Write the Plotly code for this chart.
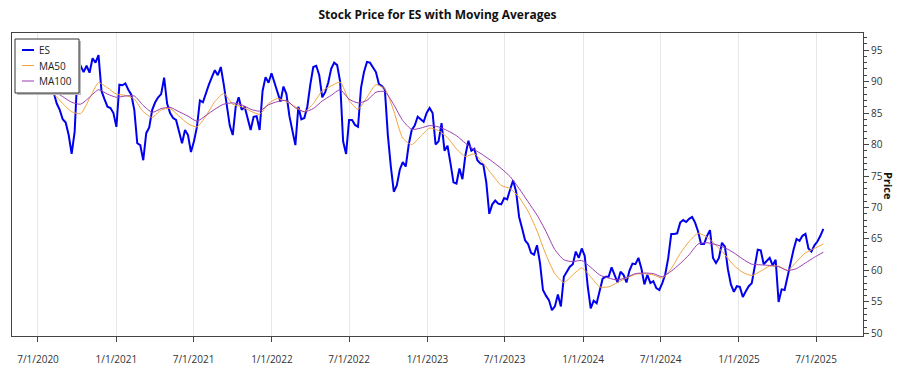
import pandas as pd
import plotly.graph_objects as go

# ---------------- data ----------------
start_date = "2020-05-15"          # first weekly close shown

# weekly closing prices of ES
es_price = [
    88.5, 89.5, 90.5, 89, 90, 91, 89.5, 90, 91, 89.5,
    90, 89, 88.2, 86.5, 85.5, 84, 83.5, 81.5, 78.5, 82,
    92, 92.5, 91.5, 92.5, 91.4, 93.7, 93, 94.2, 88.5, 87.2,
    86, 85.8, 85, 82.8, 89.5, 89.4, 89.7, 88.7, 87.9, 85.5,
    80.2, 79.9, 77.5, 81.8, 82.7, 85.5, 86.7, 87.5, 88, 90.6,
    86.5, 85, 84.2, 83.9, 82, 80.2, 82.3, 81.5, 78.8, 80.5,
    82.8, 87, 86.7, 88.3, 89.5, 90.7, 91.8, 91, 92.3, 89.5,
    86, 83, 81.5, 86, 87.5, 85.5, 86, 83.9, 82.3, 84.4,
    84.5, 82.3, 88.5, 90.7, 89.8, 91.3, 89.8, 88.2, 86.8, 89.2,
    88, 84.5, 82.3, 79.9, 86, 84, 84.2, 86, 89.5, 92.3,
    92.5, 91, 87.5, 88.3, 89.8, 92, 93, 92.6, 90, 80.5,
    78.5, 83.9, 83.9, 83.1, 82.8, 89, 91.5, 93.1, 93, 92.2,
    91.5, 89.6, 89.3, 88.7, 81.5, 76.5, 72.5, 73.5, 76, 77.2,
    76.5, 80, 82.3, 83, 84.4, 84, 83.6, 85, 85.8, 85,
    80, 80.5, 83.4, 79, 79.8, 77, 74, 73.8, 76.2, 74.5,
    78.3, 80.6, 79, 79.3, 77.5, 77, 76.8, 74, 69, 70.5,
    71.1, 70.6, 70.5, 71.5, 71.3, 72.9, 74.3, 72.5, 68.5, 66.7,
    64.8, 64.2, 62.8, 62.5, 64, 61.2, 56.9, 56, 55.3, 53.7,
    54.3, 56.2, 54.3, 59, 59.8, 60.6, 61, 63, 62, 63.5,
    62.3, 57.5, 54, 55.2, 54.8, 56.7, 58.7, 59, 59, 60.5,
    59.2, 58.1, 59.8, 59.3, 58.1, 60, 61.1, 61, 62, 60.3,
    57.8, 59.3, 58, 58.3, 57.2, 56.9, 58, 59.4, 62, 65.8,
    65.8, 65.9, 67.6, 68, 67.7, 68.2, 68.5, 67.6, 66.2, 64.2,
    64.2, 65.5, 66.4, 62, 61.2, 62, 64.4, 63.8, 60.2, 57.8,
    56.6, 57.5, 57.4, 55.8, 56.7, 57.5, 58, 60.4, 63.3, 63.2,
    61, 61.5, 62, 60.8, 61.7, 55, 57, 56.9, 59, 61.5,
    63.3, 65, 64.7, 65.5, 65.8, 63.5, 63, 64, 64.6, 65.5,
    66.6,
]

# moving averages read every third week
ma50 = [
    88.5, 88.6, 88.8, 88.9, 88.0, 86.5, 85.2, 84.9, 87.3, 89.8,
    89.0, 88.0, 87.8, 87.2, 85.2, 84.3, 85.5, 85.7, 84.5, 83.3,
    82.8, 84.5, 86.8, 88.1, 86.4, 86.0, 85.3, 84.8, 86.5, 87.3,
    86.8, 86.0, 85.2, 86.5, 88.5, 89.3, 89.9, 87.0, 85.6, 87.5,
    89.5, 88.8, 85.3, 81.0, 80.0, 81.3, 82.6, 82.2, 81.1, 79.3,
    78.1, 78.5, 77.0, 75.2, 73.5, 73.0, 71.6, 69.4, 66.3, 62.5,
    59.5, 58.1, 59.3, 60.4, 59.0, 57.4, 57.4, 58.1, 58.8, 59.4,
    59.5, 59.3, 58.8, 60.3, 62.7, 64.6, 65.9, 65.3, 64.0, 62.5,
    60.8, 59.7, 59.2, 59.9, 60.7, 60.7, 60.0, 61.4, 62.8, 63.5,
    64.2,
]
ma100 = [
    88.8, 88.9, 89.0, 88.8, 88.4, 87.6, 86.7, 86.4, 87.5, 88.7,
    88.0, 87.5, 87.7, 87.7, 86.2, 85.1, 85.7, 85.9, 85.2, 84.5,
    83.7, 84.6, 85.6, 86.4, 86.6, 86.3, 85.6, 85.3, 86.3, 86.8,
    87.0, 85.8, 85.2, 85.7, 86.9, 87.8, 88.7, 87.2, 86.6, 87.0,
    88.3, 88.4, 86.3, 83.8, 82.4, 82.6, 83.0, 82.8, 82.2, 81.4,
    80.2, 79.2, 78.3, 77.3, 76.2, 74.9, 73.0, 70.9, 68.8, 66.2,
    63.3, 61.7, 61.4, 61.6, 60.5, 59.3, 58.8, 58.5, 58.9, 59.5,
    59.6, 59.5, 59.0, 59.9, 61.1, 62.5, 64.2, 64.4, 64.1, 63.6,
    62.8, 61.8, 61.0, 60.9, 60.8, 60.6, 60.0, 60.3, 61.2, 62.1,
    62.9,
]

series_names = ["ES", "MA50", "MA100"]
series_colors = ["#0000F0", "#F2A43A", "#9B3DB0"]

tick_dates = ["2020-07-01", "2021-01-01", "2021-07-01", "2022-01-01",
              "2022-07-01", "2023-01-01", "2023-07-01", "2024-01-01",
              "2024-07-01", "2025-01-01", "2025-07-01"]
tick_labels = ["7/1/2020", "1/1/2021", "7/1/2021", "1/1/2022",
               "7/1/2022", "1/1/2023", "7/1/2023", "1/1/2024",
               "7/1/2024", "1/1/2025", "7/1/2025"]

price_dates = pd.date_range(start_date, periods=len(es_price), freq="7D")
ma50_dates = pd.date_range(start_date, periods=len(ma50), freq="21D")
ma100_dates = pd.date_range(start_date, periods=len(ma100), freq="21D")

# ---------------- layout geometry (pixels) ----------------
W, H = 900, 375
PL, PR, PT, PB = 12, 863, 33, 336   # plot-area box


def px(xpix):
    return (xpix - PL) / (PR - PL)


def py(ypix):
    return (PB - ypix) / (PB - PT)


FONT = "Open Sans, Noto Sans, DejaVu Sans, sans-serif"

fig = go.Figure()
fig.add_trace(go.Scatter(x=price_dates, y=es_price, mode="lines", name=series_names[0],
                         line=dict(color=series_colors[0], width=2)))
fig.add_trace(go.Scatter(x=ma50_dates, y=ma50, mode="lines", name=series_names[1],
                         line=dict(color=series_colors[1], width=1, shape="spline", smoothing=0.6)))
fig.add_trace(go.Scatter(x=ma100_dates, y=ma100, mode="lines", name=series_names[2],
                         line=dict(color=series_colors[2], width=1, shape="spline", smoothing=0.6)))

fig.update_layout(
    width=W, height=H,
    margin=dict(l=PL, r=W - PR, t=PT, b=H - PB, autoexpand=False),
    paper_bgcolor="white", plot_bgcolor="white",
    font=dict(family=FONT, size=10, color="#333"),
    title=dict(text="<b>Stock Price for ES with Moving Averages</b>",
               x=0.5, xref="paper", xanchor="center",
               y=0.96, yref="container", yanchor="middle",
               font=dict(family=FONT, size=12, color="#111")),
    showlegend=False,
)

fig.update_xaxes(
    range=["2020-05-01", "2025-10-19"], automargin=False,
    tickmode="array", tickvals=tick_dates, ticktext=tick_labels,
    ticks="outside", ticklen=5, tickcolor="#444",
    showline=True, linecolor="#444", linewidth=1, mirror=True,
    showgrid=True, gridcolor="#E6E6E6", gridwidth=1, zeroline=False,
    ticklabelstandoff=9,
    tickfont=dict(family=FONT, size=10, color="#333"),
)
fig.update_yaxes(
    side="right", range=[49.6, 97.7], automargin=False,
    tick0=50, dtick=5, ticks="outside", ticklen=5, tickcolor="#444",
    showline=True, linecolor="#444", linewidth=1, mirror=True,
    showgrid=False, zeroline=False,
    tickfont=dict(family=FONT, size=10, color="#333"),
    minor=dict(dtick=1, tick0=50, ticks="outside", ticklen=3,
               tickcolor="#444", showgrid=False),
)

# axis title on the right, reading top to bottom
fig.add_annotation(text="<b>Price</b>", textangle=90,
                   xref="paper", yref="paper", x=px(889), y=py(186),
                   xanchor="center", yanchor="middle", showarrow=False,
                   font=dict(family=FONT, size=11, color="#111"))

# legend box (drawn as a framed panel with a soft shadow)
fig.add_shape(type="rect", xref="paper", yref="paper",
              x0=px(17), x1=px(81), y0=py(41), y1=py(95),
              fillcolor="#BBBBBB", line=dict(width=0), layer="above")
fig.add_shape(type="rect", xref="paper", yref="paper",
              x0=px(15), x1=px(79), y0=py(39), y1=py(93),
              fillcolor="white", line=dict(color="#333", width=1), layer="above")
legend_rows = [50, 65.5, 81]
for name, color, row, lw in zip(series_names, series_colors, legend_rows, [2, 1, 1]):
    fig.add_shape(type="line", xref="paper", yref="paper",
                  x0=px(22), x1=px(34), y0=py(row), y1=py(row),
                  line=dict(color=color, width=lw), layer="above")
    fig.add_annotation(text=name, xref="paper", yref="paper",
                       x=px(37), y=py(row), xanchor="left", yanchor="middle",
                       showarrow=False,
                       font=dict(family=FONT, size=10, color="#222"))

fig.write_html("out.html",
               config={"displayModeBar": False},
               post_script="document.body.style.margin='0';"
                           "document.body.style.overflow='hidden';")
